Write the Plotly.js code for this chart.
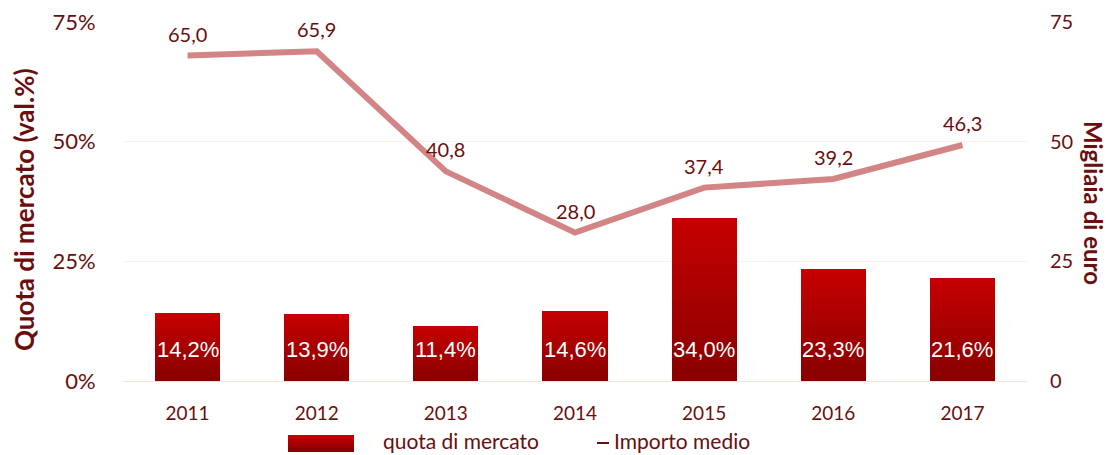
<!DOCTYPE html>
<html>
<head>
<meta charset="utf-8">
<script src="https://cdn.plot.ly/plotly-3.0.1.min.js"></script>
<style>html,body{margin:0;padding:0;background:#fff;}#chart{width:1107px;height:455px;}</style>
</head>
<body>
<div id="chart"></div>
<script>
// ---- data ----
const years = ['2011', '2012', '2013', '2014', '2015', '2016', '2017'];
const quotaMercato = [14.2, 13.9, 11.4, 14.6, 34.0, 23.3, 21.6];      // % (left axis)
const importoMedio = [65.0, 65.9, 40.8, 28.0, 37.4, 39.2, 46.3];      // migliaia di euro
const leftTicks = [0, 25, 50, 75];
const rightTicks = [0, 25, 50, 75];
const seriesNames = ['quota di mercato', 'Importo medio'];
const axisTitles = ['Quota di mercato (val.%)', 'Migliaia di euro'];

// ---- styles ----
const TXT = '#6A0E0E';
const FONT = 'Lato, "Open Sans", sans-serif';
const W = 1107, H = 455;
const M = {l: 123, r: 80, t: 22, b: 74};
const PW = W - M.l - M.r, PH = H - M.t - M.b;
const px = x => (x - M.l) / PW;
const py = y => (H - M.b - y) / PH;
const fmt = v => v.toFixed(1).replace('.', ',');

// gradient bars built as stacked slices of each value
const N = 14;
const bottomRGB = [138, 0, 0], topRGB = [196, 0, 0];
const mix = t => 'rgb(' + bottomRGB.map((c, i) => Math.round(c + (topRGB[i] - c) * t)).join(',') + ')';
const traces = [];
for (let k = 0; k < N; k++) {
  traces.push({
    type: 'bar', x: years, y: quotaMercato.map(v => v / N),
    marker: {color: mix(k / (N - 1)), line: {width: 0}},
    width: 0.505, showlegend: false, hoverinfo: 'skip'
  });
}
traces.push({
  type: 'scatter', mode: 'lines', x: years, y: importoMedio, yaxis: 'y3',
  line: {color: '#D38484', width: 6}, showlegend: false, name: seriesNames[1]
});
traces.push({type: 'scatter', mode: 'lines', x: years, y: importoMedio.map(() => null), yaxis: 'y2', showlegend: false, hoverinfo: 'skip'});

const annotations = [];
years.forEach((yr, i) => {
  annotations.push({x: i, y: 6.5, xref: 'x', yref: 'y', text: fmt(quotaMercato[i]) + '%', showarrow: false,
    font: {family: '"Liberation Sans", Arial, sans-serif', size: 22, color: '#ffffff'}, xanchor: 'center', yanchor: 'middle'});
  annotations.push({x: i, y: importoMedio[i], xref: 'x', yref: 'y3', text: fmt(importoMedio[i]), showarrow: false,
    yshift: 22, font: {family: FONT, size: 20, color: TXT}, xanchor: 'center', yanchor: 'middle'});
});
// axis titles
annotations.push({xref: 'paper', yref: 'paper', x: px(24), y: py(210), text: axisTitles[0], textangle: -90,
  showarrow: false, xanchor: 'center', yanchor: 'middle', font: {family: FONT, size: 26, color: TXT, weight: 'bold'}});
annotations.push({xref: 'paper', yref: 'paper', x: px(1093), y: py(203), text: axisTitles[1], textangle: 90,
  showarrow: false, xanchor: 'center', yanchor: 'middle', font: {family: FONT, size: 24, color: TXT, weight: 'bold'}});
// legend texts
annotations.push({xref: 'paper', yref: 'paper', x: px(381), y: py(441), text: seriesNames[0], showarrow: false,
  xanchor: 'left', yanchor: 'middle', font: {family: FONT, size: 21, color: TXT}});
annotations.push({xref: 'paper', yref: 'paper', x: px(612), y: py(441), text: seriesNames[1], showarrow: false,
  xanchor: 'left', yanchor: 'middle', font: {family: FONT, size: 21, color: TXT}});

const shapes = [];
const LS = 4;
for (let k = 0; k < LS; k++) {
  const y0 = 452 - (452 - 435) * k / LS, y1 = 435;
  shapes.push({type: 'rect', xref: 'paper', yref: 'paper', x0: px(288), x1: px(354), y0: py(y0), y1: py(y1),
    fillcolor: mix(k / (LS - 1)), line: {width: 0}, layer: 'above'});
}
shapes.push({type: 'line', xref: 'paper', yref: 'paper', x0: px(597), x1: px(609), y0: py(443), y1: py(443),
  line: {color: TXT, width: 2}});

const layout = {
  width: W, height: H, margin: M,
  paper_bgcolor: '#ffffff', plot_bgcolor: '#ffffff',
  barmode: 'stack', bargap: 0.5, showlegend: false,
  font: {family: FONT, color: TXT},
  xaxis: {type: 'category', range: [-0.5, years.length - 0.5], autorange: false, showgrid: false, zeroline: false, showline: false,
    ticks: 'outside', ticklen: 15, tickcolor: 'rgba(0,0,0,0)', tickfont: {size: 19, color: TXT, family: FONT}},
  yaxis: {range: [0, 75], autorange: false, tickvals: leftTicks, ticktext: leftTicks.map(v => v + '%'),
    showgrid: true, gridcolor: '#FCF0E7', gridwidth: 1, zeroline: true, zerolinecolor: '#F3E2D6', zerolinewidth: 1,
    ticks: 'outside', ticklen: 22, tickcolor: 'rgba(0,0,0,0)', tickfont: {size: 22, color: TXT, family: FONT}},
  yaxis2: {range: [0, 75], autorange: false, tickvals: rightTicks, overlaying: 'y', side: 'right', showgrid: false, zeroline: false,
    showline: false, ticks: 'outside', ticklen: 18, tickcolor: 'rgba(0,0,0,0)', tickfont: {size: 20, color: TXT, family: FONT}},
  yaxis3: {range: [-3, 72], autorange: false, overlaying: 'y', visible: false, showgrid: false, zeroline: false},
  annotations: annotations,
  shapes: shapes
};

Plotly.newPlot('chart', traces, layout, {displayModeBar: false, staticPlot: true});
</script>
</body>
</html>
